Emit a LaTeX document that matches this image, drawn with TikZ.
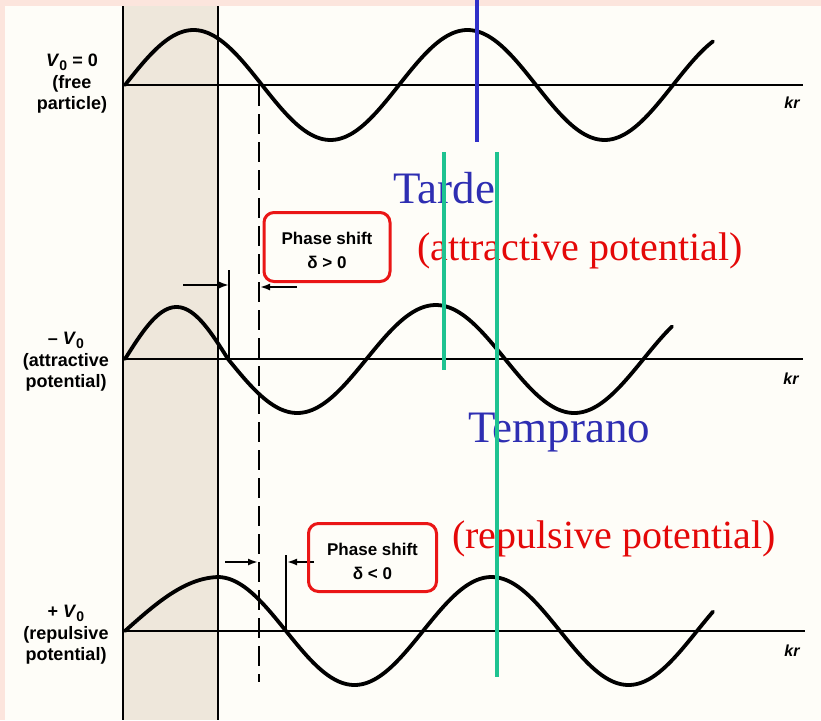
\documentclass[tikz,border=0pt]{standalone}
\usepackage{fontspec}
\setmainfont{Liberation Serif}
\setsansfont{Liberation Sans}
\usetikzlibrary{arrows.meta}
\definecolor{pinkbg}{RGB}{252,229,221}
\definecolor{paper}{RGB}{254,253,248}
\definecolor{band}{RGB}{238,231,219}
\definecolor{tblue}{RGB}{46,46,178}
\definecolor{tred}{RGB}{228,8,8}
\definecolor{boxred}{RGB}{234,22,22}
\definecolor{tgreen}{RGB}{30,195,145}
\definecolor{lblue}{RGB}{48,48,200}
\tikzset{
  wave/.style={line width=3.8pt, line cap=round, line join=round},
  axisline/.style={line width=2.2pt},
  edgeline/.style={line width=2pt},
  thinline/.style={line width=1.4pt},
  dashline/.style={line width=2.2pt, dash pattern=on 20pt off 8pt},
  dimarrow/.style={line width=1.8pt, -{Latex[length=10pt,width=7pt]}},
  lbl/.style={font=\fontsize{18}{21.5}\selectfont\sffamily\bfseries, align=center, inner sep=0pt},
  krlbl/.style={font=\fontsize{16}{18}\selectfont\sffamily\bfseries\itshape, inner sep=0pt},
  phasebox/.style={draw=boxred, line width=3pt, rounded corners=10pt, inner sep=0pt},
  phasetxt/.style={font=\fontsize{17}{24}\selectfont\sffamily\bfseries, align=center, inner sep=0pt},
  bigblue/.style={font=\fontsize{45}{50}\selectfont, text=tblue, inner sep=0pt, anchor=base west},
  bigred/.style={font=\fontsize{40}{46}\selectfont, text=tred, inner sep=0pt, anchor=base west},
  bluebar/.style={draw=lblue, line width=4.5pt},
  greenbar/.style={draw=tgreen, line width=4.5pt}
}
\newcommand{\Vnaught}{\textit{V}\raisebox{-0.35ex}{\fontsize{14}{14}\selectfont 0}}
\begin{document}
\begin{tikzpicture}[x=1pt,y=-1pt]
\useasboundingbox (0,0) rectangle (821,720);
% background
\fill[pinkbg] (0,0) rectangle (821,720);
\fill[paper] (5,6) rectangle (821,720);
% shaded region
\fill[band] (123,6) rectangle (218,720);
\coordinate (bandLt) at (123,6); \coordinate (bandLb) at (123,720);
\coordinate (bandRt) at (218,6); \coordinate (bandRb) at (218,720);
\draw[edgeline] (bandLt) -- (bandLb);
\draw[edgeline] (bandRt) -- (bandRb);

% axes
\coordinate (ax1a) at (123,85);  \coordinate (ax1b) at (803,85);
\coordinate (ax2a) at (123,359); \coordinate (ax2b) at (803,359);
\coordinate (ax3a) at (123,631); \coordinate (ax3b) at (805,631);
\draw[axisline] (ax1a) -- (ax1b);
\draw[axisline] (ax2a) -- (ax2b);
\draw[axisline] (ax3a) -- (ax3b);

% kr labels
\node[krlbl] (kr1) at (792,103) {kr};
\node[krlbl] (kr2) at (791,379) {kr};
\node[krlbl] (kr3) at (792,651) {kr};

% left labels
\node[lbl] (lab1) at (72,84) {\Vnaught{} = 0\\(free\\particle)};
\node[lbl] (lab2) at (66,362) {-- \Vnaught\\(attractive\\potential)};
\node[lbl] (lab3) at (66,635) {+ \Vnaught\\(repulsive\\potential)};

% waves
\draw[wave] plot[domain=125:713, samples=200] (\x, {85-55*sin((\x-125)/274*360)});
\draw[wave] plot[domain=125:228, samples=60] (\x, {359-52*sin((\x-125)/103*180)})
  -- plot[domain=228:672, samples=160] (\x, {359+54*sin((\x-228)/277*360)});
\draw[wave] plot[domain=125:220, samples=60] (\x, {631-54*sin((\x-125)/95*90)})
  -- plot[domain=220:713, samples=180] (\x, {631+54*sin((\x-286)/274*360)});

% dashed reference line
\coordinate (dtop) at (259,86);
\coordinate (dbot) at (259,682);
\draw[dashline] (dtop) -- (dbot);

% shift markers (middle)
\coordinate (m1t) at (229,270); \coordinate (m1b) at (229,359);
\draw[thinline] (m1t) -- (m1b);
\coordinate (ma1) at (183,285); \coordinate (ma2) at (229,285);
\draw[dimarrow] (ma1) -- (ma2);
\coordinate (mb1) at (297,287); \coordinate (mb2) at (260,287);
\draw[dimarrow] (mb1) -- (mb2);

% shift markers (bottom)
\coordinate (b1t) at (286,555); \coordinate (b1b) at (286,631);
\draw[thinline] (b1t) -- (b1b);
\coordinate (ba1) at (225,562); \coordinate (ba2) at (258,562);
\draw[dimarrow] (ba1) -- (ba2);
\coordinate (bb1) at (314,562); \coordinate (bb2) at (287,562);
\draw[dimarrow] (bb1) -- (bb2);

% phase shift boxes
\node[phasebox, minimum width=126pt, minimum height=69pt] (box1) at (327,247) {};
\node[phasetxt] (box1t) at (327,250) {Phase shift\\δ > 0};
\node[phasebox, minimum width=128pt, minimum height=68pt] (box2) at (372.5,557.5) {};
\node[phasetxt] (box2t) at (372.5,561) {Phase shift\\δ < 0};

% overlay texts
\node[bigblue] (tarde) at (393,203) {Tarde};
\node[bigred] (attr) at (417,260) {(attractive potential)};
\node[bigblue] (temp) at (468,442) {Temprano};
\node[bigred] (rep) at (452,548) {(repulsive potential)};

% overlay bars
\coordinate (blA) at (477,0); \coordinate (blB) at (477,142);
\draw[bluebar] (blA) -- (blB);
\coordinate (g1A) at (444,152); \coordinate (g1B) at (444,370);
\draw[greenbar] (g1A) -- (g1B);
\coordinate (g2A) at (497,152); \coordinate (g2B) at (497,677);
\draw[greenbar] (g2A) -- (g2B);
\end{tikzpicture}
\end{document}
